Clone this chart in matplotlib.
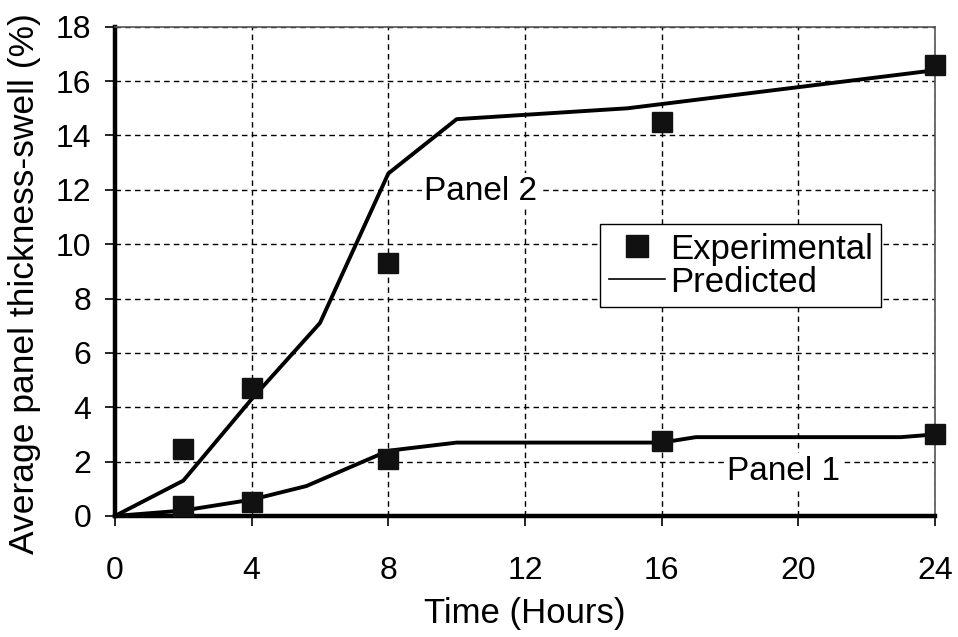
import matplotlib
matplotlib.use("Agg")
import matplotlib.pyplot as plt
from matplotlib.lines import Line2D

plt.rcParams['font.family'] = ['Liberation Sans', 'DejaVu Sans']

# Measured thickness swell (%) at each soaking time
exp_hours = [2, 4, 8, 16, 24]
panel1_exp = [0.35, 0.5, 2.1, 2.75, 3.0]
panel2_exp = [2.45, 4.7, 9.3, 14.5, 16.6]

# Model predictions
panel1_pred_hours = [0, 2, 4, 5.6, 8, 10, 16, 17, 23, 24]
panel1_pred = [0, 0.2, 0.6, 1.1, 2.4, 2.7, 2.7, 2.9, 2.9, 3.0]
panel2_pred_hours = [0, 2, 4, 6, 8, 10, 15, 24]
panel2_pred = [0, 1.3, 4.3, 7.1, 12.6, 14.6, 15.0, 16.4]

x_ticks = [0, 4, 8, 12, 16, 20, 24]
y_ticks = [0, 2, 4, 6, 8, 10, 12, 14, 16, 18]

fig = plt.figure(figsize=(9.58, 6.37), dpi=100)
ax = fig.add_axes([0.120, 0.190, 0.856, 0.768])

ax.plot(panel1_pred_hours, panel1_pred, color='black', lw=2.8, zorder=3)
ax.plot(panel2_pred_hours, panel2_pred, color='black', lw=2.8, zorder=3)
ax.plot(exp_hours, panel1_exp, ls='none', marker='s', ms=14, color='#111111',
        clip_on=False, zorder=4)
ax.plot(exp_hours, panel2_exp, ls='none', marker='s', ms=14, color='#111111',
        clip_on=False, zorder=4)

ax.set_xlim(0, 24)
ax.set_ylim(0, 18)
ax.set_xticks(x_ticks)
ax.set_yticks(y_ticks)
ax.tick_params(axis='both', labelsize=23, width=1.2, color='black')
ax.tick_params(axis='y', length=7, pad=10)
ax.tick_params(axis='x', length=7, pad=22)

ax.grid(True, color='black', ls=(0, (4, 3)), lw=1.0)
ax.set_axisbelow(True)

for side in ('left', 'bottom'):
    ax.spines[side].set_linewidth(3.2)
    ax.spines[side].set_color('black')
for side in ('top', 'right'):
    ax.spines[side].set_linewidth(1.2)
    ax.spines[side].set_color('#555555')

ax.set_xlabel('Time (Hours)', fontsize=25, labelpad=8)
ax.set_ylabel('Average panel thickness-swell (%)', fontsize=25.5)
ax.yaxis.set_label_coords(-0.090, 0.476)

t2 = ax.text(9.05, 11.95, 'Panel 2', fontsize=24, ha='left', va='center')
t2.set_bbox(dict(facecolor='white', edgecolor='none', pad=2))
t1 = ax.text(17.9, 1.65, 'Panel 1', fontsize=24, ha='left', va='center')
t1.set_bbox(dict(facecolor='white', edgecolor='none', pad=2))

handles = [
    Line2D([], [], ls='none', marker='s', ms=16, color='#111111'),
    Line2D([], [], color='black', lw=1.2),
]
leg = ax.legend(handles, ['Experimental', 'Predicted'], fontsize=25,
                loc='upper left', bbox_to_anchor=(0.592, 0.597),
                frameon=True, fancybox=False, framealpha=1,
                edgecolor='black', handlelength=1.6, handletextpad=0.15,
                borderpad=0.25, labelspacing=0.0, borderaxespad=0)
leg.get_frame().set_linewidth(1.0)

fig.savefig('out.png', dpi=100, facecolor='white')
